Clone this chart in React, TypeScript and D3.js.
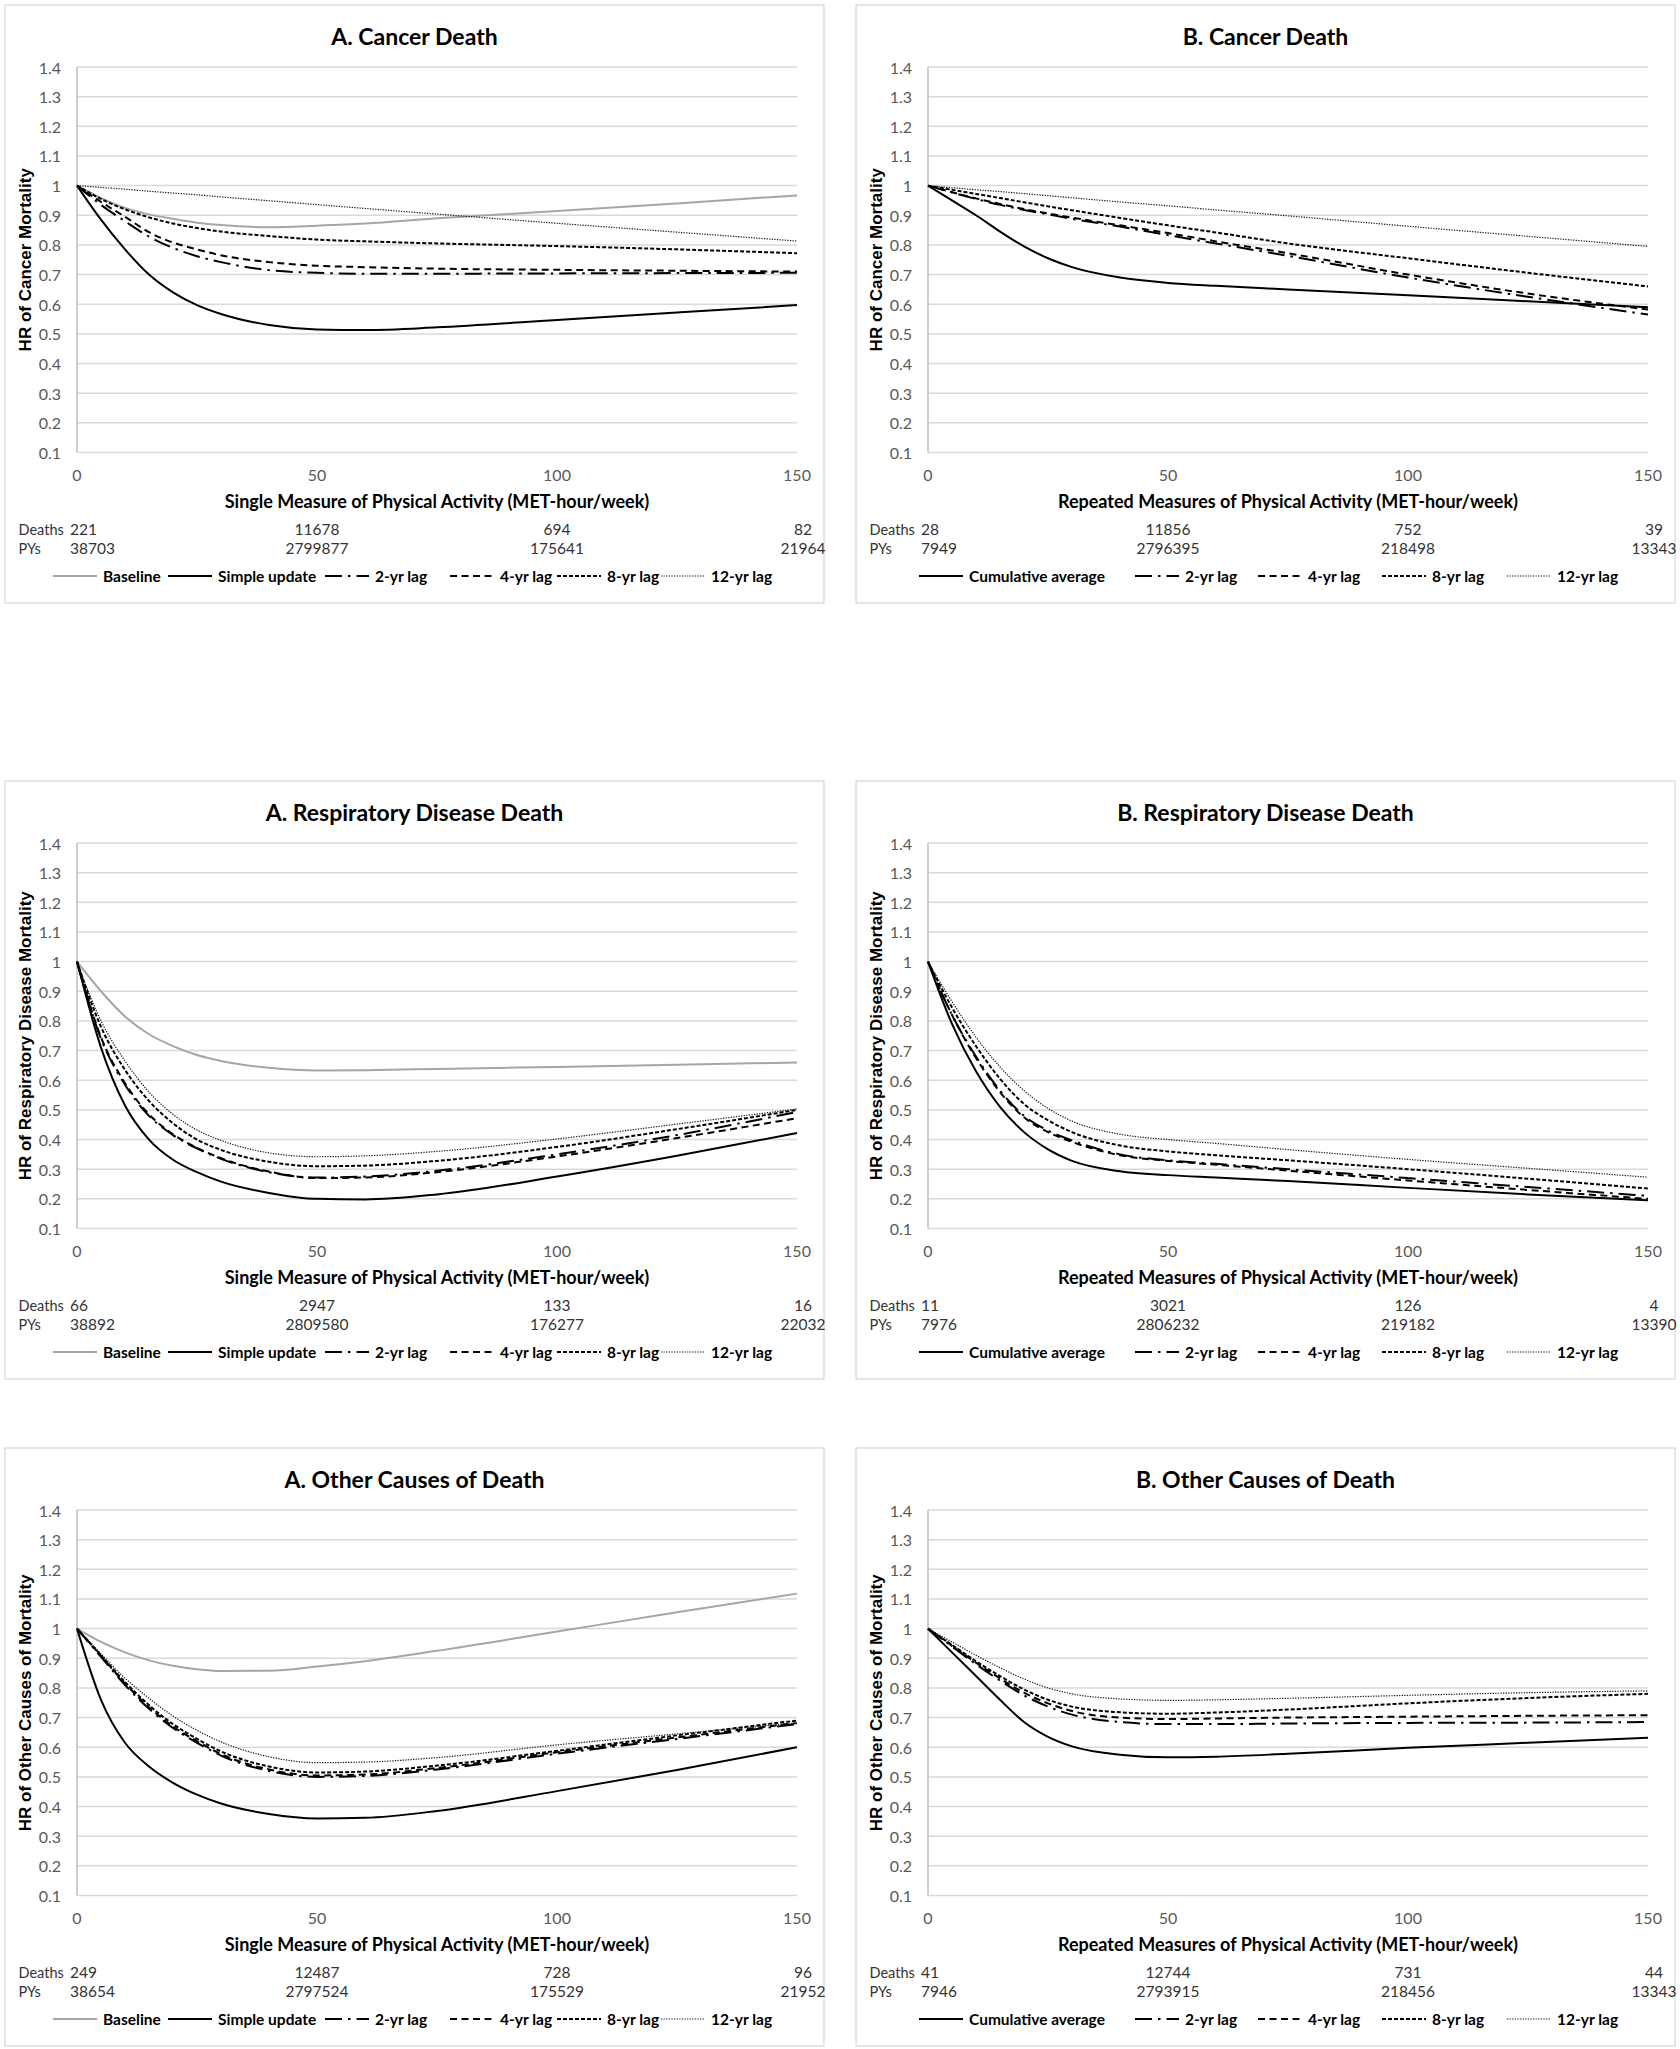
import React from 'react';
import * as d3 from 'd3';

// ---------- shared axes ----------
const X_GRID = [0, 5, 10, 15, 20, 25, 30, 40, 50, 60, 75, 100, 125, 150];
const X_TICKS = [0, 50, 100, 150];
const Y_TICKS = [0.1, 0.2, 0.3, 0.4, 0.5, 0.6, 0.7, 0.8, 0.9, 1, 1.1, 1.2, 1.3, 1.4];

const SERIES_A = ['Baseline', 'Simple update', '2-yr lag', '4-yr lag', '8-yr lag', '12-yr lag'];
const SERIES_B = ['Cumulative average', '2-yr lag', '4-yr lag', '8-yr lag', '12-yr lag'];

const X_LABEL_A = 'Single Measure of Physical Activity (MET-hour/week)';
const X_LABEL_B = 'Repeated Measures of Physical Activity (MET-hour/week)';

// ---------- A. Cancer ----------
const aCancerBaseline = [1, 0.958, 0.925, 0.903, 0.888, 0.875, 0.867, 0.86, 0.865, 0.872, 0.89, 0.914, 0.94, 0.967];
const aCancerSimple = [1, 0.885, 0.785, 0.7, 0.64, 0.597, 0.567, 0.53, 0.515, 0.513, 0.522, 0.547, 0.572, 0.597];
const aCancerLag2 = [1, 0.935, 0.88, 0.828, 0.79, 0.762, 0.742, 0.715, 0.706, 0.703, 0.703, 0.704, 0.705, 0.706];
const aCancerLag4 = [1, 0.945, 0.895, 0.843, 0.808, 0.785, 0.765, 0.742, 0.73, 0.725, 0.72, 0.716, 0.713, 0.71];
const aCancerLag8 = [1, 0.955, 0.92, 0.893, 0.872, 0.857, 0.845, 0.83, 0.818, 0.812, 0.805, 0.796, 0.785, 0.772];
const aCancerLag12 = [1, 0.994, 0.988, 0.981, 0.975, 0.969, 0.962, 0.949, 0.936, 0.923, 0.904, 0.873, 0.843, 0.813];
const aCancerDeaths = ['221', '11678', '694', '82'];
const aCancerPYs = ['38703', '2799877', '175641', '21964'];

// ---------- B. Cancer ----------
const bCancerCum = [1, 0.95, 0.9, 0.845, 0.795, 0.755, 0.725, 0.69, 0.672, 0.662, 0.65, 0.63, 0.61, 0.59];
const bCancerLag2 = [1, 0.977, 0.955, 0.935, 0.918, 0.903, 0.888, 0.862, 0.833, 0.805, 0.763, 0.69, 0.625, 0.565];
const bCancerLag4 = [1, 0.978, 0.957, 0.938, 0.921, 0.906, 0.892, 0.866, 0.84, 0.812, 0.772, 0.7, 0.636, 0.582];
const bCancerLag8 = [1, 0.986, 0.972, 0.958, 0.944, 0.93, 0.917, 0.891, 0.866, 0.842, 0.805, 0.755, 0.706, 0.66];
const bCancerLag12 = [1, 0.993, 0.986, 0.98, 0.973, 0.966, 0.959, 0.945, 0.932, 0.918, 0.898, 0.863, 0.829, 0.795];
const bCancerDeaths = ['28', '11856', '752', '39'];
const bCancerPYs = ['7949', '2796395', '218498', '13343'];

// ---------- A. Respiratory ----------
const aRespBaseline = [1, 0.9, 0.815, 0.755, 0.715, 0.685, 0.665, 0.642, 0.633, 0.634, 0.638, 0.645, 0.652, 0.66];
const aRespSimple = [1, 0.71, 0.515, 0.4, 0.332, 0.29, 0.258, 0.22, 0.2, 0.198, 0.215, 0.275, 0.345, 0.422];
const aRespLag2 = [1, 0.74, 0.585, 0.48, 0.415, 0.37, 0.335, 0.29, 0.272, 0.275, 0.295, 0.35, 0.415, 0.493];
const aRespLag4 = [1, 0.745, 0.59, 0.485, 0.418, 0.372, 0.337, 0.292, 0.27, 0.272, 0.29, 0.343, 0.405, 0.472];
const aRespLag8 = [1, 0.78, 0.635, 0.53, 0.455, 0.4, 0.365, 0.325, 0.31, 0.312, 0.328, 0.375, 0.435, 0.5];
const aRespLag12 = [1, 0.8, 0.665, 0.56, 0.485, 0.432, 0.397, 0.355, 0.342, 0.345, 0.36, 0.402, 0.452, 0.503];
const aRespDeaths = ['66', '2947', '133', '16'];
const aRespPYs = ['38892', '2809580', '176277', '22032'];

// ---------- B. Respiratory ----------
const bRespCum = [1, 0.79, 0.63, 0.51, 0.425, 0.367, 0.328, 0.293, 0.28, 0.272, 0.26, 0.237, 0.215, 0.195];
const bRespLag2 = [1, 0.82, 0.68, 0.565, 0.48, 0.43, 0.397, 0.35, 0.33, 0.318, 0.3, 0.27, 0.24, 0.21];
const bRespLag4 = [1, 0.82, 0.675, 0.56, 0.475, 0.425, 0.392, 0.347, 0.328, 0.315, 0.295, 0.262, 0.23, 0.2];
const bRespLag8 = [1, 0.845, 0.715, 0.605, 0.52, 0.465, 0.425, 0.38, 0.36, 0.347, 0.33, 0.3, 0.268, 0.235];
const bRespLag12 = [1, 0.865, 0.745, 0.645, 0.565, 0.505, 0.462, 0.418, 0.4, 0.387, 0.366, 0.333, 0.303, 0.273];
const bRespDeaths = ['11', '3021', '126', '4'];
const bRespPYs = ['7976', '2806232', '219182', '13390'];

// ---------- A. Other ----------
const aOtherBaseline = [1, 0.955, 0.92, 0.893, 0.875, 0.863, 0.857, 0.858, 0.872, 0.89, 0.925, 0.99, 1.055, 1.118];
const aOtherSimple = [1, 0.76, 0.615, 0.535, 0.48, 0.44, 0.41, 0.375, 0.36, 0.362, 0.385, 0.452, 0.523, 0.6];
const aOtherLag2 = [1, 0.905, 0.81, 0.73, 0.665, 0.615, 0.572, 0.52, 0.5, 0.503, 0.525, 0.578, 0.628, 0.678];
const aOtherLag4 = [1, 0.908, 0.815, 0.735, 0.67, 0.62, 0.577, 0.525, 0.505, 0.508, 0.53, 0.583, 0.633, 0.682];
const aOtherLag8 = [1, 0.91, 0.82, 0.742, 0.678, 0.628, 0.586, 0.535, 0.515, 0.518, 0.538, 0.588, 0.64, 0.69];
const aOtherLag12 = [1, 0.915, 0.833, 0.765, 0.705, 0.657, 0.618, 0.568, 0.548, 0.55, 0.565, 0.608, 0.645, 0.682];
const aOtherDeaths = ['249', '12487', '728', '96'];
const aOtherPYs = ['38654', '2797524', '175529', '21952'];

// ---------- B. Other ----------
const bOtherCum = [1, 0.92, 0.84, 0.76, 0.685, 0.635, 0.603, 0.575, 0.566, 0.568, 0.578, 0.598, 0.615, 0.632];
const bOtherLag2 = [1, 0.94, 0.88, 0.825, 0.775, 0.737, 0.71, 0.685, 0.678, 0.678, 0.68, 0.682, 0.683, 0.685];
const bOtherLag4 = [1, 0.942, 0.885, 0.832, 0.784, 0.748, 0.722, 0.7, 0.695, 0.697, 0.7, 0.703, 0.706, 0.708];
const bOtherLag8 = [1, 0.945, 0.89, 0.84, 0.795, 0.76, 0.737, 0.718, 0.713, 0.717, 0.727, 0.748, 0.766, 0.78];
const bOtherLag12 = [1, 0.955, 0.91, 0.868, 0.83, 0.8, 0.78, 0.763, 0.758, 0.76, 0.765, 0.775, 0.784, 0.79];
const bOtherDeaths = ['41', '12744', '731', '44'];
const bOtherPYs = ['7946', '2793915', '218456', '13343'];

// ---------- styles ----------
const LINE_STYLE: Record<string, { stroke: string; width: number; dash?: string }> = {
  'Baseline': { stroke: '#a6a6a6', width: 2 },
  'Simple update': { stroke: '#000', width: 2 },
  'Cumulative average': { stroke: '#000', width: 2 },
  '2-yr lag': { stroke: '#000', width: 2, dash: '17 6 2.5 6' },
  '4-yr lag': { stroke: '#000', width: 2, dash: '7 4.5' },
  '8-yr lag': { stroke: '#000', width: 2, dash: '4 2' },
  '12-yr lag': { stroke: '#1a1a1a', width: 1.2, dash: '1.3 1.3' },
};

const FONT_CAL = "Lato, 'Open Sans', sans-serif";
const FONT_ARIAL = "'Liberation Sans', Arial, sans-serif";

const PANEL_W = 819;
const PANEL_H = 598;
const COL_X = [5, 856];
const ROW_Y = [5, 781, 1448];
const PLOT_L = 72;
const PLOT_W = 720;
const PLOT_T = 62;
const PLOT_H = 385.5;
const LEGEND_X_A = [48, 163, 320, 445, 552, 656];
const LEGEND_X_B = [63, 279, 402, 526, 651];

type PanelCfg = {
  title: string; yLabel: string; xLabel: string;
  deaths: string[]; pys: string[];
  names: string[]; series: number[][]; legendX: number[];
  col: number; row: number;
};

const PANELS: PanelCfg[] = [
  { title: 'A. Cancer Death', yLabel: 'HR of Cancer Mortality', xLabel: X_LABEL_A, deaths: aCancerDeaths, pys: aCancerPYs,
    names: SERIES_A, series: [aCancerBaseline, aCancerSimple, aCancerLag2, aCancerLag4, aCancerLag8, aCancerLag12], legendX: LEGEND_X_A, col: 0, row: 0 },
  { title: 'B. Cancer Death', yLabel: 'HR of Cancer Mortality', xLabel: X_LABEL_B, deaths: bCancerDeaths, pys: bCancerPYs,
    names: SERIES_B, series: [bCancerCum, bCancerLag2, bCancerLag4, bCancerLag8, bCancerLag12], legendX: LEGEND_X_B, col: 1, row: 0 },
  { title: 'A. Respiratory Disease Death', yLabel: 'HR of Respiratory Disease Mortality', xLabel: X_LABEL_A, deaths: aRespDeaths, pys: aRespPYs,
    names: SERIES_A, series: [aRespBaseline, aRespSimple, aRespLag2, aRespLag4, aRespLag8, aRespLag12], legendX: LEGEND_X_A, col: 0, row: 1 },
  { title: 'B. Respiratory Disease Death', yLabel: 'HR of Respiratory Disease Mortality', xLabel: X_LABEL_B, deaths: bRespDeaths, pys: bRespPYs,
    names: SERIES_B, series: [bRespCum, bRespLag2, bRespLag4, bRespLag8, bRespLag12], legendX: LEGEND_X_B, col: 1, row: 1 },
  { title: 'A. Other Causes of Death', yLabel: 'HR of Other Causes of Mortality', xLabel: X_LABEL_A, deaths: aOtherDeaths, pys: aOtherPYs,
    names: SERIES_A, series: [aOtherBaseline, aOtherSimple, aOtherLag2, aOtherLag4, aOtherLag8, aOtherLag12], legendX: LEGEND_X_A, col: 0, row: 2 },
  { title: 'B. Other Causes of Death', yLabel: 'HR of Other Causes of Mortality', xLabel: X_LABEL_B, deaths: bOtherDeaths, pys: bOtherPYs,
    names: SERIES_B, series: [bOtherCum, bOtherLag2, bOtherLag4, bOtherLag8, bOtherLag12], legendX: LEGEND_X_B, col: 1, row: 2 },
];

function Panel({ cfg }: { cfg: PanelCfg }) {
  const x = d3.scaleLinear().domain([0, 150]).range([PLOT_L, PLOT_L + PLOT_W]);
  const y = d3.scaleLinear().domain([0.1, 1.4]).range([PLOT_T + PLOT_H, PLOT_T]);
  const line = d3.line<number>()
    .x((_, i) => x(X_GRID[i]))
    .y((d) => y(d))
    .curve(d3.curveMonotoneX);
  const bottom = PLOT_T + PLOT_H;
  const fmt = d3.format('~g');
  const rowY = [PLOT_T + 462, PLOT_T + 481];
  const legendY = PLOT_T + 509;
  const colAnchor = (i: number) => i === 0 ? 'start' : 'middle';
  const colX = (i: number) => i === 0 ? PLOT_L - 7 : i === 3 ? x(X_TICKS[i]) + 6 : x(X_TICKS[i]);
  return (
    <g transform={`translate(${COL_X[cfg.col]},${ROW_Y[cfg.row]})`}>
      <rect x={0} y={0} width={PANEL_W} height={PANEL_H} fill="#fff" stroke="#d9d9d9" strokeWidth={1.3} />
      <text x={PANEL_W / 2} y={PLOT_T - 31} textAnchor="middle" dominantBaseline="central"
        fontFamily={FONT_CAL} fontWeight="bold" fontSize={23} fill="#000">{cfg.title}</text>
      {Y_TICKS.map((t) => (
        <g key={t}>
          <line x1={PLOT_L} x2={PLOT_L + PLOT_W} y1={y(t)} y2={y(t)} stroke="#d9d9d9" strokeWidth={1.5} />
          <text x={PLOT_L - 16} y={y(t)} textAnchor="end" dominantBaseline="central"
            fontFamily={FONT_CAL} fontSize={16} fill="#595959">{fmt(t)}</text>
        </g>
      ))}
      <line x1={PLOT_L} x2={PLOT_L} y1={PLOT_T} y2={bottom} stroke="#bfbfbf" strokeWidth={1.5} />
      {X_TICKS.map((t) => (
        <text key={t} x={x(t)} y={PLOT_T + 407} textAnchor="middle" dominantBaseline="central"
          fontFamily={FONT_CAL} fontSize={16} fill="#595959">{t}</text>
      ))}
      <text transform={`translate(20,${PLOT_T + PLOT_H / 2}) rotate(-90)`} textAnchor="middle" dominantBaseline="central"
        fontFamily={FONT_ARIAL} fontWeight="bold" fontSize={17} fill="#000">{cfg.yLabel}</text>
      <text x={PLOT_L + PLOT_W / 2} y={PLOT_T + 434} textAnchor="middle" dominantBaseline="central"
        fontFamily={FONT_CAL} fontWeight="bold" fontSize={18} fill="#000">{cfg.xLabel}</text>
      {cfg.series.map((s, i) => {
        const st = LINE_STYLE[cfg.names[i]];
        return <path key={cfg.names[i]} d={line(s) || ''} fill="none" stroke={st.stroke}
          strokeWidth={st.width} strokeDasharray={st.dash} />;
      })}
      <text x={13.5} y={rowY[0]} dominantBaseline="central" fontFamily={FONT_CAL} fontSize={14.5} fill="#333">Deaths</text>
      <text x={13.5} y={rowY[1]} dominantBaseline="central" fontFamily={FONT_CAL} fontSize={14.5} fill="#333">PYs</text>
      {cfg.deaths.map((v, i) => (
        <text key={'d' + i} x={colX(i)} y={rowY[0]} textAnchor={colAnchor(i)} dominantBaseline="central"
          fontFamily={FONT_CAL} fontSize={15.5} fill="#333">{v}</text>
      ))}
      {cfg.pys.map((v, i) => (
        <text key={'p' + i} x={colX(i)} y={rowY[1]} textAnchor={colAnchor(i)} dominantBaseline="central"
          fontFamily={FONT_CAL} fontSize={15.5} fill="#333">{v}</text>
      ))}
      {cfg.names.map((n, i) => {
        const st = LINE_STYLE[n];
        const lx = cfg.legendX[i];
        return (
          <g key={'lg' + n}>
            <line x1={lx} x2={lx + 44} y1={legendY} y2={legendY} stroke={st.stroke} strokeWidth={st.width} strokeDasharray={st.dash} />
            <text x={lx + 50} y={legendY} dominantBaseline="central" fontFamily={FONT_CAL} fontWeight="bold"
              fontSize={15.5} fill="#000">{n}</text>
          </g>
        );
      })}
    </g>
  );
}

export default function App() {
  return (
    <svg width={1680} height={2049} style={{ position: 'absolute', left: 0, top: 0, background: '#fff' }}>
      <rect x={0} y={0} width={1680} height={2049} fill="#fff" />
      {PANELS.map((p) => <Panel key={p.title} cfg={p} />)}
    </svg>
  );
}
